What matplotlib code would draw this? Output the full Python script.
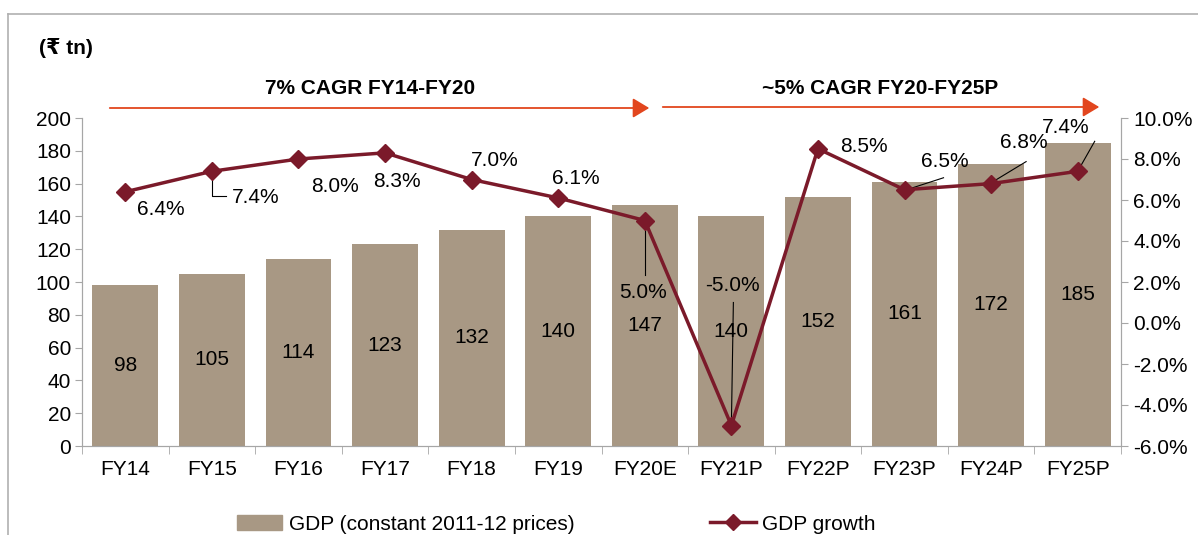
import matplotlib
matplotlib.use('Agg')
import matplotlib.pyplot as plt
from matplotlib.lines import Line2D
from matplotlib.patches import FancyArrowPatch, Patch
from matplotlib.ticker import FuncFormatter, FixedLocator
import numpy as np

years = ['FY14', 'FY15', 'FY16', 'FY17', 'FY18', 'FY19', 'FY20E',
         'FY21P', 'FY22P', 'FY23P', 'FY24P', 'FY25P']
gdp = [98, 105, 114, 123, 132, 140, 147, 140, 152, 161, 172, 185]
growth = [6.4, 7.4, 8.0, 8.3, 7.0, 6.1, 5.0, -5.0, 8.5, 6.5, 6.8, 7.4]

# label offsets from the marker, in pixels (dx, dy)
lab_off = [(36, -18), (44, -26), (37, -28), (12, -29), (23, 19), (18, 19),
           (-2, -72), (1, 140), (46, 2), (40, 28), (33, 41), (-12, 44)]

plt.rcParams['font.family'] = ['Liberation Sans Narrow', 'Liberation Sans', 'DejaVu Sans']
bar_c = '#A89884'
line_c = '#7B1A2A'
arrow_c = '#E2461E'
grey = '#A6A6A6'

fig = plt.figure(figsize=(11.98, 5.35), dpi=100)
W, H = 1198, 535
ax = fig.add_axes([82 / W, 1 - 446 / H, (1121 - 82) / W, (446 - 118) / H])
x = np.arange(len(years))

ax.bar(x, gdp, width=0.76, color=bar_c, zorder=2)
for xi, v in zip(x, gdp):
    ax.text(xi, v / 2, str(v), ha='center', va='center', fontsize=15, zorder=3)

ax.set_xlim(-0.5, len(years) - 0.5)
ax.set_ylim(0, 200)
ax.set_yticks(range(0, 201, 20))
ax.set_xticks(x)
ax.set_xticklabels(years, fontsize=15)
ax.xaxis.set_minor_locator(FixedLocator(np.arange(-0.5, len(years), 1)))
ax.tick_params(axis='x', which='major', length=0, pad=10)
ax.tick_params(axis='x', which='minor', length=6, color=grey, direction='out')
ax.tick_params(axis='y', labelsize=15, length=5, color=grey, pad=3)
ax.spines['top'].set_visible(False)
for s in ['left', 'bottom', 'right']:
    ax.spines[s].set_color(grey)

ax2 = ax.twinx()
ax2.plot(x, growth, color=line_c, lw=2.5, marker='D', ms=9, zorder=4)
ax2.set_ylim(-6, 10)
ax2.set_yticks(range(-6, 11, 2))
ax2.yaxis.set_major_formatter(FuncFormatter(lambda v, p: f'{v:.1f}%'))
ax2.tick_params(axis='y', labelsize=15, length=5, color=grey, pad=4)
ax2.spines['top'].set_visible(False)
for s in ['left', 'bottom', 'right']:
    ax2.spines[s].set_color(grey)

for i, (g, (dx, dy)) in enumerate(zip(growth, lab_off)):
    ax2.annotate(f'{g:.1f}%', (x[i], g), xytext=(dx, dy), textcoords='offset pixels',
                 ha='center', va='center', fontsize=15, zorder=5)


# leader lines, points given as pixel offsets from the marker
def leader(i, pts):
    px, py = ax2.transData.transform((x[i], growth[i]))
    xy = np.array([(px + ddx, py + ddy) for ddx, ddy in pts])
    d = ax2.transData.inverted().transform(xy)
    ax2.plot(d[:, 0], d[:, 1], color='black', lw=0.8, zorder=3)


fig.canvas.draw()
leader(1, [(0, 0), (0, -25), (14, -25)])
leader(6, [(0, 0), (0, -54)])
leader(7, [(0, 0), (2, 123)])
leader(9, [(2, 0), (39, 12)])
leader(10, [(2, 2), (35, 22)])
leader(11, [(0, 0), (17, 30)])


# CAGR arrows
def cagr(x0, x1, y, label, xt):
    fig.add_artist(FancyArrowPatch(
        (x0 / W, 1 - y / H), (x1 / W, 1 - y / H), transform=fig.transFigure,
        arrowstyle='-|>,head_length=5,head_width=3', mutation_scale=2.0,
        color=arrow_c, lw=1.3))
    fig.text(xt / W, 1 - 88 / H, label, ha='center', va='center',
             fontsize=15, fontweight='bold')


cagr(107, 652, 108, '7% CAGR FY14-FY20', 370)
cagr(660, 1102, 107, '~5% CAGR FY20-FY25P', 880)

fig.text(66 / W, 1 - 48 / H, '(\u20b9 tn)', ha='center', va='center',
         fontsize=15, fontweight='bold')

# partial frame around the chart
fig.add_artist(Line2D([8 / W, 1], [1 - 14 / H, 1 - 14 / H], transform=fig.transFigure,
                      color='#B0B0B0', lw=1.2))
fig.add_artist(Line2D([8 / W, 8 / W], [0, 1 - 14 / H], transform=fig.transFigure,
                      color='#B0B0B0', lw=1.2))

handles = [Patch(color=bar_c, label='GDP (constant 2011-12 prices)'),
           Line2D([], [], color=line_c, lw=2.5, marker='D', ms=8, label='GDP growth')]
fig.legend(handles=handles, loc='center', bbox_to_anchor=(556 / W, 1 - 524 / H),
           ncol=2, frameon=False, fontsize=15, handlelength=2.2, columnspacing=6.5,
           handletextpad=0.3)

fig.savefig('out.png', dpi=100)
